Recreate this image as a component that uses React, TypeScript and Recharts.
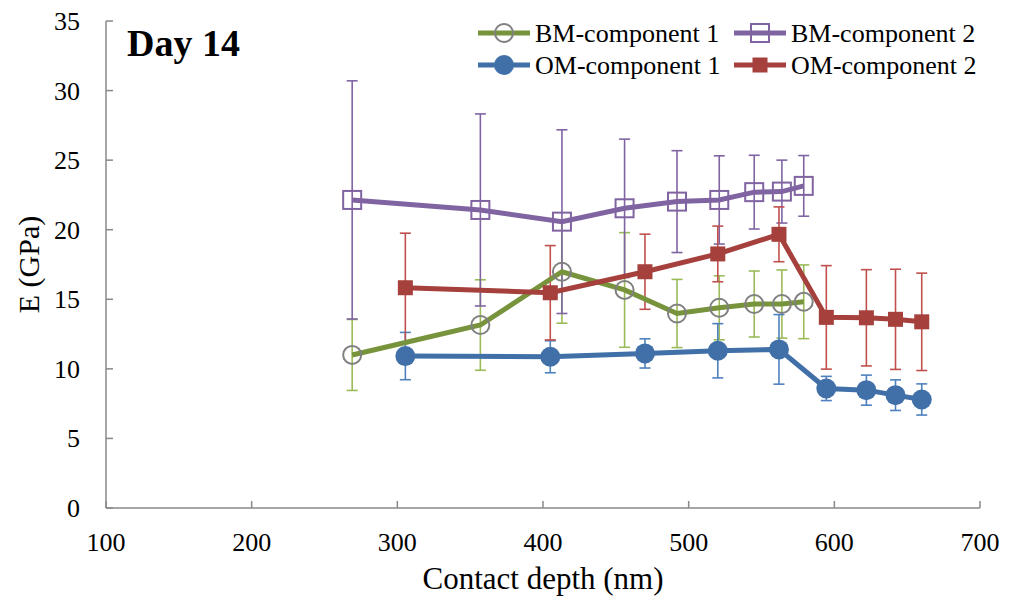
import React from "react";
import { ComposedChart, Line, XAxis, YAxis, ErrorBar } from "recharts";

// contact depth (nm), modulus (GPa) and error (GPa) per series
const bmDepth = [269, 357, 413, 456, 492, 521, 545, 564, 579];
const omDepth = [305.5, 405, 470, 520, 562, 594.5, 622, 642, 660];

const bm1Values = [11.0, 13.15, 16.98, 15.67, 13.98, 14.39, 14.66, 14.66, 14.82];
const bm1Errors = [2.55, 3.25, 3.7, 4.12, 2.45, 2.3, 2.37, 2.45, 2.65];

const bm2Values = [22.14, 21.42, 20.58, 21.54, 22.02, 22.14, 22.7, 22.74, 23.15];
const bm2Errors = [8.56, 6.9, 6.6, 4.97, 3.66, 3.17, 2.65, 2.26, 2.18];

const om1Values = [10.92, 10.87, 11.11, 11.3, 11.4, 8.59, 8.47, 8.11, 7.8];
const om1Errors = [1.7, 1.15, 1.05, 1.95, 2.5, 0.87, 1.08, 1.1, 1.12];

const om2Values = [15.83, 15.47, 16.98, 18.26, 19.67, 13.7, 13.67, 13.56, 13.38];
const om2Errors = [3.92, 3.39, 2.7, 2.0, 1.97, 3.72, 3.46, 3.6, 3.5];

const xTicks = [100, 200, 300, 400, 500, 600, 700];
const yTicks = [0, 5, 10, 15, 20, 25, 30, 35];

const FONT = "'Liberation Serif', 'Times New Roman', serif";
const AXIS = "#898989";

const toRows = (xs: number[], ys: number[], es: number[]) =>
  xs.map((x, i) => ({ x, y: ys[i], e: es[i] }));

type Marker = "openCircle" | "openSquare" | "circle" | "square";

const series = [
  {
    name: "BM-component 1",
    data: toRows(bmDepth, bm1Values, bm1Errors),
    line: "#77933C",
    bar: "#9BBB59",
    marker: "openCircle" as Marker,
    markerColor: "#808080",
  },
  {
    name: "BM-component 2",
    data: toRows(bmDepth, bm2Values, bm2Errors),
    line: "#8064A2",
    bar: "#8064A2",
    marker: "openSquare" as Marker,
    markerColor: "#8064A2",
  },
  {
    name: "OM-component 1",
    data: toRows(omDepth, om1Values, om1Errors),
    line: "#4170A8",
    bar: "#4F81BD",
    marker: "circle" as Marker,
    markerColor: "#4170A8",
  },
  {
    name: "OM-component 2",
    data: toRows(omDepth, om2Values, om2Errors),
    line: "#A5403C",
    bar: "#C0504D",
    marker: "square" as Marker,
    markerColor: "#A5403C",
  },
];

function drawMarker(kind: Marker, color: string, cx: number, cy: number, key?: React.Key) {
  if (kind === "openCircle")
    return <circle key={key} cx={cx} cy={cy} r={9} fill="none" stroke={color} strokeWidth={2} />;
  if (kind === "openSquare")
    return (
      <rect key={key} x={cx - 9} y={cy - 9} width={18} height={18} fill="none" stroke={color} strokeWidth={2} />
    );
  if (kind === "circle") return <circle key={key} cx={cx} cy={cy} r={10} fill={color} />;
  return <rect key={key} x={cx - 7.5} y={cy - 7.5} width={15} height={15} fill={color} />;
}

const XTick = (props: any) => {
  const { x, y, payload } = props;
  return (
    <g>
      <line x1={x} x2={x} y1={y} y2={y - 7} stroke={AXIS} strokeWidth={1.5} />
      <text x={x} y={y + 43} textAnchor="middle" fontFamily={FONT} fontSize={26} fill="#000">
        {payload.value}
      </text>
    </g>
  );
};

const YTick = (props: any) => {
  const { x, y, payload } = props;
  return (
    <g>
      <line x1={x} x2={x + 7} y1={y} y2={y} stroke={AXIS} strokeWidth={1.5} />
      <text x={x - 26} y={y + 9} textAnchor="end" fontFamily={FONT} fontSize={26} fill="#000">
        {payload.value}
      </text>
    </g>
  );
};

function ChartLegend() {
  const cols = [478, 734];
  const rows = [33, 65];
  return (
    <svg width={1012} height={90} style={{ position: "absolute", left: 0, top: 0, pointerEvents: "none" }}>
      {series.map((s, i) => {
        const x0 = cols[i % 2];
        const y = rows[Math.floor(i / 2)];
        return (
          <g key={s.name}>
            <line x1={x0} x2={x0 + 52} y1={y} y2={y} stroke={s.line} strokeWidth={5} />
            {drawMarker(s.marker, s.markerColor, x0 + 26, y)}
            <text x={x0 + 57} y={y + 9} fontFamily={FONT} fontSize={26} fill="#000">
              {s.name}
            </text>
          </g>
        );
      })}
    </svg>
  );
}

export default function App() {
  return (
    <div style={{ position: "absolute", left: 0, top: 0, width: 1012, height: 606, background: "#fff" }}>
      <ComposedChart width={1012} height={606} margin={{ top: 21, right: 32, bottom: 0, left: 0 }}>
        <XAxis
          type="number"
          dataKey="x"
          domain={[100, 700]}
          ticks={xTicks}
          interval={0}
          height={98}
          tickSize={0}
          tickMargin={0}
          tickLine={false}
          axisLine={{ stroke: AXIS, strokeWidth: 1.5 }}
          tick={<XTick />}
          allowDuplicatedCategory={false}
          label={{
            content: (p: any) => (
              <text
                x={p.viewBox.x + p.viewBox.width / 2}
                y={p.viewBox.y + 81}
                textAnchor="middle"
                fontFamily={FONT}
                fontSize={31}
                fill="#000"
              >
                Contact depth (nm)
              </text>
            ),
          }}
        />
        <YAxis
          type="number"
          dataKey="y"
          domain={[0, 35]}
          ticks={yTicks}
          interval={0}
          width={106}
          tickSize={0}
          tickMargin={0}
          tickLine={false}
          axisLine={{ stroke: AXIS, strokeWidth: 1.5 }}
          tick={<YTick />}
          label={{
            content: (p: any) => {
              const cy = p.viewBox.y + p.viewBox.height / 2;
              return (
                <text
                  x={28}
                  y={cy}
                  transform={`rotate(-90 28 ${cy})`}
                  textAnchor="middle"
                  dominantBaseline="central"
                  fontFamily={FONT}
                  fontSize={30}
                  fill="#000"
                >
                  E (GPa)
                </text>
              );
            },
          }}
        />
        {series.map((s) => (
          <Line
            key={s.name + "-err"}
            data={s.data}
            dataKey="y"
            stroke="none"
            dot={false}
            activeDot={false}
            legendType="none"
            isAnimationActive={false}
          >
            <ErrorBar dataKey="e" direction="y" width={5.5} stroke={s.bar} strokeWidth={1.6} />
          </Line>
        ))}
        {series.map((s) => (
          <Line
            key={s.name}
            data={s.data}
            dataKey="y"
            name={s.name}
            stroke={s.line}
            strokeWidth={5}
            activeDot={false}
            isAnimationActive={false}
            dot={(p: any) => drawMarker(s.marker, s.markerColor, p.cx, p.cy, `${s.name}-${p.index}`)}
          />
        ))}
      </ComposedChart>
      <ChartLegend />
      <div
        style={{
          position: "absolute",
          left: 127,
          top: 21,
          fontFamily: FONT,
          fontWeight: "bold",
          fontSize: 38,
          lineHeight: "44px",
          color: "#000",
        }}
      >
        Day 14
      </div>
    </div>
  );
}
